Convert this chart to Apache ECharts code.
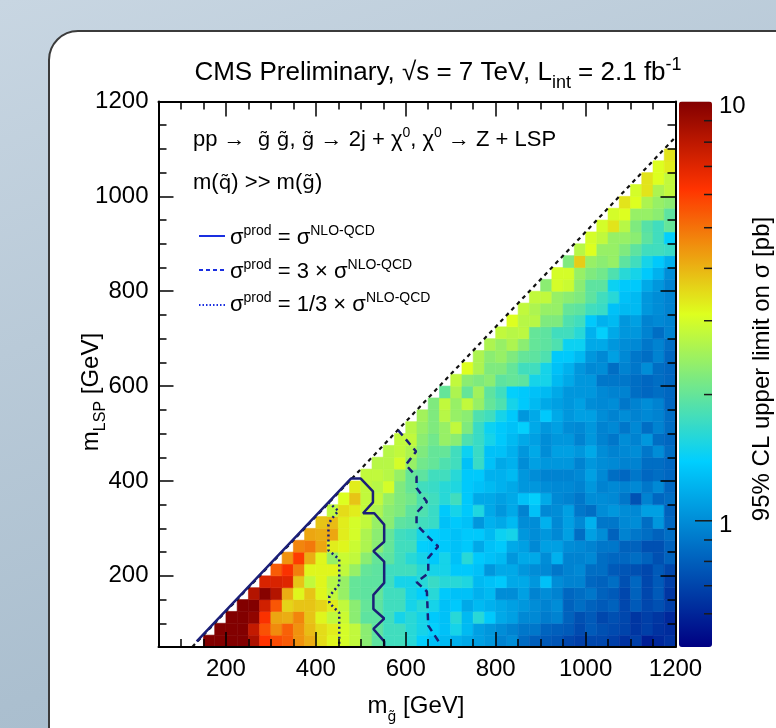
<!DOCTYPE html>
<html>
<head>
<meta charset="utf-8">
<script src="https://cdn.jsdelivr.net/npm/echarts@6/dist/echarts.min.js"></script>
<style>
html,body{margin:0;padding:0;width:776px;height:728px;overflow:hidden;}
body{background:linear-gradient(160deg,#c8d6e2 0%,#b9cad8 35%,#abbfcf 70%,#a3b8ca 100%);position:relative;}
#panel{position:absolute;left:48px;top:30px;width:820px;height:820px;background:#fff;border:2px solid #3b3b3b;border-radius:30px;box-sizing:border-box;}
#chart{position:absolute;left:0;top:0;width:776px;height:728px;}
</style>
</head>
<body>
<div id="panel"></div>
<div id="chart"></div>
<script>
// ---------------- data ----------------
const BIN = 25;              // GeV bin width (both axes)
const LSP_START = 50;        // first m_LSP bin (lower edge)
const GLUINO_OFFSET = 100;   // first m_gluino bin of each row = m_LSP + 100
// 95% CL upper limit on sigma [pb]; row k is m_LSP = 50 + 25k, values start at m_gluino = m_LSP + 100
const limitRows = [
 [10,10,10,10,8.5,6.2,5.7,5.4,4.5,4.1,3.5,3.2,3.0,2.8,2.3,1.95,1.75,1.75,1.6,1.4,1.3,1.25,1.2,1.15,1.1,1.05,0.95,1.0,0.85,0.8,0.78,0.76,0.71,0.68,0.71,0.71,0.68,0.64,0.68,0.58,0.61,0.64],
 [10,10,10,7.8,5.6,4.6,5.3,4.5,3.9,3.5,3.3,3.0,2.8,2.3,1.95,1.75,1.75,1.6,1.5,1.4,1.3,1.5,1.25,1.1,1.05,1.0,0.95,0.9,0.9,0.82,0.8,0.78,0.72,0.78,0.74,0.72,0.7,0.65,0.68,0.64,0.62],
 [10,10,9.5,6.3,4.2,4.1,4.7,3.8,3.2,2.8,2.9,2.3,1.95,1.95,1.75,1.5,1.6,1.5,1.35,1.3,1.6,1.25,1.6,1.35,1.15,1.1,0.98,0.98,0.92,0.95,0.81,0.74,0.78,0.71,0.74,0.71,0.65,0.68,0.65,0.61],
 [10,10,7.4,5.5,3.6,3.8,3.8,3.6,3.3,2.8,2.3,2.0,1.95,1.75,1.75,1.5,1.6,1.5,1.3,1.35,1.15,1.25,1.2,1.15,1.1,1.05,1.0,0.95,1.0,0.81,0.86,0.81,0.78,0.81,0.71,0.78,0.71,0.74,0.68],
 [8.3,9.8,8.3,4.1,3.2,3.8,3.2,2.8,2.4,2.0,1.95,2.0,1.75,1.75,1.5,1.4,1.6,1.35,1.3,1.3,1.2,1.25,1.0,1.0,1.1,0.95,1.0,0.95,0.83,0.86,0.9,0.81,0.78,0.71,0.81,0.71,0.78,0.65],
 [7.2,7.2,7.0,3.8,2.8,3.2,2.7,2.4,2.0,1.95,1.95,1.75,1.5,1.5,1.6,1.7,1.6,1.6,1.55,1.25,1.3,1.35,1.15,1.15,1.05,1.3,1.0,0.95,0.95,0.83,0.81,0.86,0.74,0.83,0.71,0.78,0.68],
 [5.4,6.3,4.8,3.2,3.2,3.2,2.8,2.4,2.0,1.95,1.75,1.75,1.75,1.6,1.5,1.5,1.35,1.35,1.3,1.05,1.15,1.15,1.05,1.0,0.98,0.9,0.95,0.98,0.86,0.86,0.78,0.76,0.74,0.71,0.78,0.71],
 [4.5,6.0,4.1,3.2,2.4,2.9,2.8,2.3,2.0,1.95,1.75,1.6,1.5,1.35,1.5,1.3,1.6,1.35,1.3,1.25,1.05,1.15,1.15,1.0,1.2,0.95,0.95,0.98,0.86,0.83,0.83,0.86,0.81,0.74,0.81],
 [4.7,4.9,4.2,3.3,3.2,2.9,2.6,2.3,2.0,1.75,1.75,1.4,1.35,1.35,1.3,1.35,1.15,1.3,1.35,1.15,1.1,0.98,1.1,1.1,1.0,0.98,0.95,0.9,0.9,0.81,0.81,0.74,0.74,0.81],
 [4.2,4.1,4.2,3.3,3.0,2.6,2.3,2.0,1.75,1.7,1.5,1.4,1.35,1.3,1.35,1.35,1.25,1.45,1.5,1.05,1.0,1.05,0.98,1.1,0.86,1.1,1.0,0.81,0.95,0.9,0.86,0.81,0.86],
 [3.8,3.9,3.3,3.0,2.8,2.4,2.3,1.95,1.9,1.75,1.7,1.3,1.35,1.3,1.05,1.2,1.15,1.25,1.0,1.0,1.2,0.98,1.1,0.98,1.2,0.9,0.9,0.98,1.0,0.86,1.05,0.83],
 [2.8,3.5,3.3,2.8,2.6,2.3,2.2,1.95,1.85,1.7,1.35,1.5,1.35,1.55,1.15,1.05,1.15,0.95,1.3,0.98,1.0,1.1,0.9,0.86,1.0,1.05,1.0,0.98,1.1,1.1,0.81],
 [3.1,3.8,2.8,2.8,2.4,2.2,2.1,1.85,1.75,1.6,1.75,1.35,1.15,1.15,1.1,1.15,1.3,1.4,1.15,0.98,0.95,0.9,1.0,1.0,0.98,0.9,0.75,0.95,0.83,0.86],
 [3.3,2.8,2.7,3.0,2.2,2.0,1.75,1.7,1.6,1.55,1.35,1.3,1.25,1.2,1.15,1.05,1.05,1.0,0.98,0.98,0.95,1.05,0.95,0.98,0.95,0.98,0.9,0.98,0.83],
 [2.8,2.8,2.7,2.4,2.0,1.95,1.75,1.75,1.6,1.35,1.35,1.2,1.2,1.25,1.05,1.0,0.95,0.95,0.95,0.98,1.1,0.98,0.86,0.83,0.9,0.83,0.86,0.83],
 [2.7,2.7,3.0,2.4,2.1,2.0,1.85,1.75,1.3,1.7,1.3,1.15,1.2,1.0,1.1,1.05,1.05,1.05,0.95,1.05,1.0,0.98,0.95,0.95,0.86,0.86,0.83],
 [2.7,2.8,2.6,2.2,2.0,2.0,1.75,1.45,1.7,1.3,1.3,1.2,1.05,1.15,1.0,1.1,1.1,1.05,1.15,1.0,0.95,0.98,1.0,0.9,1.0,0.86],
 [2.8,2.8,2.3,2.1,2.4,2.3,1.85,1.7,1.5,1.35,1.25,1.15,1.1,1.0,1.05,1.05,0.95,1.05,0.95,0.9,1.0,0.95,1.05,0.86,0.83],
 [2.7,2.4,2.2,2.4,2.8,2.2,1.7,1.45,1.35,1.3,1.4,1.15,1.05,1.1,1.0,0.98,1.05,0.95,0.98,0.9,0.98,0.86,0.95,0.86],
 [2.5,2.2,2.7,2.4,2.3,1.85,1.75,1.5,1.35,1.05,1.15,1.35,1.15,1.05,1.1,1.1,1.0,0.95,1.0,0.95,0.98,0.95,0.86],
 [2.2,2.8,2.4,2.8,2.4,2.0,1.85,1.5,1.35,1.25,1.15,1.1,1.05,1.1,1.0,0.98,1.0,0.9,0.95,1.0,0.95,0.83],
 [2.0,2.6,2.0,2.5,1.95,1.75,1.4,1.35,1.3,1.25,1.15,1.05,1.05,1.05,0.98,0.95,0.95,0.86,0.83,0.86,0.83],
 [2.8,2.3,2.2,2.3,1.95,2.0,1.95,1.5,1.5,1.25,1.15,1.05,1.05,0.9,0.9,0.9,0.86,0.83,0.86,0.83],
 [3.1,2.6,2.2,2.2,2.0,1.75,1.75,1.5,1.3,1.2,1.05,0.98,1.0,0.86,0.95,0.9,1.0,0.86,0.83],
 [2.6,2.3,2.4,2.2,2.0,1.95,1.85,1.35,1.35,1.25,1.05,0.98,1.1,0.98,0.9,0.86,0.95,0.83],
 [2.6,2.4,2.6,2.3,2.0,1.95,1.85,1.45,1.45,1.15,1.15,1.05,1.0,0.98,0.9,0.95,0.86],
 [2.8,2.7,2.75,2.0,1.95,1.75,1.75,1.6,1.2,1.4,1.15,1.05,1.05,0.95,0.86,0.95],
 [3.1,2.7,2.7,2.2,2.2,1.85,1.75,1.35,1.2,1.25,1.05,1.1,0.95,0.98,0.95],
 [2.8,2.6,2.4,2.4,2.0,1.95,1.75,1.7,1.3,1.25,1.25,1.05,1.0,0.95],
 [2.8,2.8,2.4,2.3,2.2,1.95,1.75,1.6,1.3,1.25,1.05,1.0,0.95],
 [2.3,3.0,2.9,2.3,1.95,1.95,1.45,1.35,1.35,1.15,1.05,0.95],
 [3.0,3.0,2.4,2.2,2.1,1.85,1.6,1.5,1.35,1.2,1.0],
 [2.2,3.7,2.4,2.3,2.4,1.95,1.75,1.5,1.35,1.2],
 [2.7,3.1,2.4,2.4,2.2,1.95,1.75,1.75,1.7],
 [3.0,2.8,2.4,2.4,2.3,1.95,1.75,1.4],
 [3.0,3.4,2.7,2.2,1.9,1.75,2.0],
 [3.0,3.1,2.4,2.4,2.3,1.95],
 [3.4,3.1,2.6,2.4,2.3],
 [3.0,3.4,2.6,2.8],
 [3.4,3.1,2.8],
 [3.1,3.3],
 [3.4]
];
// exclusion contours [m_gluino, m_LSP] in GeV
const contourNominal = [[135,62],[478,405],[500,405],[527,378],[527,355],[505,332],[530,332],[552,308],[552,272],[528,252],[552,230],[552,185],[528,160],[528,130],[552,110],[528,88],[552,62],[552,50]];
const contourTimes3 = [[583,507],[600,488],[623,462],[600,434],[624,409],[624,385],[647,356],[624,333],[624,308],[647,285],[672,262],[650,238],[650,205],[624,187],[647,167],[650,95],[673,62]];
const contourThird = [[428,355],[450,337],[435,320],[428,308],[428,254],[452,235],[452,182],[430,157],[430,143],[452,122],[452,50]];
const kinematicLimit = [[125,50],[1200,1125]];
// axes
const AXIS_MIN = 50, AXIS_MAX = 1200;
const xMajorTicks = [200,400,600,800,1000,1200];
const yMajorTicks = [200,400,600,800,1000,1200];
const Z_MIN = 0.5, Z_MAX = 10;
const zMinorTicks = [0.6,0.7,0.8,0.9,2,3,4,5,6,7,8,9];
const zMajorTicks = [1];

// ---------------- build ----------------
const cells = [];
limitRows.forEach((row, j) => {
  const y = LSP_START + j * BIN;
  row.forEach((v, k) => {
    const x = y + GLUINO_OFFSET + k * BIN;
    const c = Math.min(Math.max(v, Z_MIN), Z_MAX);
    cells.push([x, y, v, Math.log10(c)]);
  });
});

// ROOT rainbow palette
const pStops = [0, 0.34, 0.61, 0.84, 1];
const pR = [0, 0, 0.87, 1, 0.51], pG = [0, 0.81, 1, 0.2, 0], pB = [0.51, 1, 0.12, 0, 0];
function palColor(f) {
  let i = 0;
  while (i < pStops.length - 2 && f > pStops[i + 1]) i++;
  const t = (f - pStops[i]) / (pStops[i + 1] - pStops[i]);
  const ch = a => Math.round(255 * (a[i] + t * (a[i + 1] - a[i])));
  return 'rgb(' + ch(pR) + ',' + ch(pG) + ',' + ch(pB) + ')';
}
const palette = [];
for (let i = 0; i <= 100; i++) palette.push(palColor(i / 100));

const FONT = '"Liberation Sans", Arial, Helvetica, sans-serif';
const TFONT = '"DejaVu Sans", "Liberation Sans", sans-serif';
const LH = 40;
function rich(base, sub, pbBase, pbSub, pbSup) {
  const st = (fs, pb, fam) => ({fontSize: fs, fontFamily: fam || FONT, fill: '#000', lineHeight: LH, verticalAlign: 'bottom', padding: [0, 0, pb, 0]});
  return {
    b: st(base, pbBase),
    t: st(Math.round(base * 0.9), pbBase + 1, TFONT),
    sub: st(sub, pbSub),
    subt: st(Math.round(sub * 0.9), pbSub, TFONT),
    sup: st(sub, pbSup)
  };
}
const richTitle = rich(26, 18, 7, 1, 19);
const richAxis = rich(24, 16, 8, 2, 19);
const richLeg = rich(22, 14, 9, 9, 20);

function txt(x, y, text, r, opts) {
  return Object.assign({type: 'text', x: x, y: y, z: 100, silent: true,
    style: {text: text, rich: r, align: 'left', verticalAlign: 'middle', fill: '#000'}}, opts || {});
}
function withAlign(el, a) { el.style.align = a; return el; }

const LEG_BLUE = '#1a2fe0';
const CONTOUR = '#1b1f78';

const tickStyle = {color: '#000', width: 1.5};
function ax(extra) {
  return Object.assign({type: 'value', min: AXIS_MIN, max: AXIS_MAX, gridIndex: 0, z: 6,
    splitLine: {show: false}, axisLine: {show: false}, axisLabel: {show: false}, axisTick: {show: false}}, extra);
}
const lineAx = {show: true, onZero: false, lineStyle: {color: '#000', width: 2}};
const labelStyle = {show: true, fontSize: 24, color: '#000', fontFamily: FONT, formatter: v => String(v)};

const option = {
  animation: false,
  grid: [
    {left: 158.5, top: 101.5, width: 517, height: 545.5, show: false},
    {left: 679, top: 101.5, width: 33, height: 545.5, show: false}
  ],
  xAxis: [
    ax({position: 'bottom', axisLine: lineAx,
        axisTick: {show: true, inside: true, length: 15, customValues: xMajorTicks, lineStyle: tickStyle},
        axisLabel: Object.assign({customValues: xMajorTicks, margin: 10}, labelStyle)}),
    ax({position: 'bottom', interval: 50, axisTick: {show: true, inside: true, length: 8, lineStyle: tickStyle}}),
    ax({position: 'top', axisLine: lineAx,
        axisTick: {show: true, inside: true, length: 15, customValues: xMajorTicks, lineStyle: tickStyle}}),
    ax({position: 'top', interval: 50, axisTick: {show: true, inside: true, length: 8, lineStyle: tickStyle}}),
    {type: 'value', gridIndex: 1, min: 0, max: 1, show: false}
  ],
  yAxis: [
    ax({position: 'left', axisLine: lineAx,
        axisTick: {show: true, inside: true, length: 15, customValues: yMajorTicks, lineStyle: tickStyle},
        axisLabel: Object.assign({customValues: yMajorTicks, margin: 10}, labelStyle)}),
    ax({position: 'left', interval: 50, axisTick: {show: true, inside: true, length: 8, lineStyle: tickStyle}}),
    ax({position: 'right', axisLine: lineAx,
        axisTick: {show: true, inside: true, length: 15, customValues: yMajorTicks, lineStyle: tickStyle}}),
    ax({position: 'right', interval: 50, axisTick: {show: true, inside: true, length: 8, lineStyle: tickStyle}}),
    {type: 'log', logBase: 10, gridIndex: 1, min: Z_MIN, max: Z_MAX, position: 'right', z: 6,
     axisLine: {show: false}, axisTick: {show: false}, splitLine: {show: false},
     axisLabel: {show: true, color: '#000', margin: 7,
       rich: {d: {fontSize: 24, fontFamily: FONT, fill: '#000', color: '#000', padding: [10, 0, 0, 0]}},
       formatter: function (v) {
         const l = Math.log10(v);
         return (v >= 1 && Math.abs(l - Math.round(l)) < 1e-6) ? '{d|' + Math.round(v) + '}' : '';
       }}}
  ],
  visualMap: {
    type: 'continuous', seriesIndex: 0, dimension: 3,
    min: Math.log10(Z_MIN), max: Math.log10(Z_MAX),
    inRange: {color: palette},
    left: 679, top: 101.5, itemWidth: 33, itemHeight: 545.5, padding: 0,
    calculable: false, hoverLink: false, text: null, orient: 'vertical',
    textStyle: {fontSize: 0, color: 'rgba(0,0,0,0)'}
  },
  series: [
    {
      type: 'custom', name: 'limit', xAxisIndex: 0, yAxisIndex: 0, z: 2, silent: true, progressive: 0,
      dimensions: ['mGluino', 'mLSP', 'limit', 'logLimit'],
      encode: {x: 0, y: 1},
      data: cells,
      renderItem: function (params, api) {
        const x0 = api.value(0), y0 = api.value(1);
        const a = api.coord([x0, y0 + BIN]);
        const b = api.coord([x0 + BIN, y0]);
        const c = api.visual('color');
        return {type: 'rect', shape: {x: a[0], y: a[1], width: b[0] - a[0], height: b[1] - a[1]},
          style: {fill: c, stroke: c, lineWidth: 0.6}};
      }
    },
    {type: 'line', xAxisIndex: 0, yAxisIndex: 0, z: 4, data: kinematicLimit, showSymbol: false, symbol: 'none', silent: true,
     lineStyle: {color: '#111', width: 2.2, type: [4, 4]}},
    {type: 'line', xAxisIndex: 0, yAxisIndex: 0, z: 5, data: contourNominal, showSymbol: false, symbol: 'none', silent: true,
     lineStyle: {color: CONTOUR, width: 2.5, type: 'solid'}},
    {type: 'line', xAxisIndex: 0, yAxisIndex: 0, z: 5, data: contourTimes3, showSymbol: false, symbol: 'none', silent: true,
     lineStyle: {color: CONTOUR, width: 2.5, type: [7, 5]}},
    {type: 'line', xAxisIndex: 0, yAxisIndex: 0, z: 5, data: contourThird, showSymbol: false, symbol: 'none', silent: true,
     lineStyle: {color: CONTOUR, width: 2.5, type: [2, 3]}},
    {
      type: 'custom', xAxisIndex: 4, yAxisIndex: 4, z: 6, silent: true,
      data: zMinorTicks.map(v => [1, v, 8]).concat(zMajorTicks.map(v => [1, v, 17])),
      encode: {x: 0, y: 1},
      renderItem: function (params, api) {
        const p = api.coord([api.value(0), api.value(1)]);
        const len = api.value(2);
        return {type: 'line', shape: {x1: p[0], y1: p[1], x2: p[0] - len, y2: p[1]},
          style: {stroke: '#1a1a1a', lineWidth: 1.5}};
      }
    }
  ],
  graphic: {elements: [
    withAlign(txt(438, 73, '{b|CMS Preliminary, √s = 7 TeV, L}{sub|int}{b| = 2.1 fb}{sup|-1}', richTitle), 'center'),
    txt(193, 140.4, '{b|pp →  }{t|g̃ g̃}{b|, }{t|g̃}{b| → 2j + χ}{sup|0}{b|, χ}{sup|0}{b| → Z + LSP}', richLeg),
    txt(193, 183.4, '{b|m(}{t|q̃}{b|) >> m(}{t|g̃}{b|)}', richLeg),
    txt(230, 238, '{b|σ}{sup|prod}{b| = σ}{sup|NLO-QCD}', richLeg),
    txt(230, 272, '{b|σ}{sup|prod}{b| = 3 × σ}{sup|NLO-QCD}', richLeg),
    txt(230, 305.4, '{b|σ}{sup|prod}{b| = 1/3 × σ}{sup|NLO-QCD}', richLeg),
    {type: 'line', z: 100, silent: true, shape: {x1: 199, y1: 236, x2: 225, y2: 236}, style: {stroke: LEG_BLUE, lineWidth: 2}},
    {type: 'line', z: 100, silent: true, shape: {x1: 199, y1: 270, x2: 225, y2: 270}, style: {stroke: LEG_BLUE, lineWidth: 2, lineDash: [4, 3]}},
    {type: 'line', z: 100, silent: true, shape: {x1: 199, y1: 305, x2: 225, y2: 305}, style: {stroke: LEG_BLUE, lineWidth: 2, lineDash: [1.5, 2]}},
    withAlign(txt(416, 706.7, '{b|m}{subt|g̃}{b| [GeV]}', richAxis), 'center'),
    withAlign(txt(91, 392, '{b|m}{sub|LSP}{b| [GeV]}', richAxis, {rotation: Math.PI / 2}), 'center'),
    withAlign(txt(762, 369, '{b|95% CL upper limit on σ [pb]}', richAxis, {rotation: Math.PI / 2}), 'center')
  ]}
};

const chart = echarts.init(document.getElementById('chart'), null, {renderer: 'canvas'});
chart.setOption(option);
</script>
</body>
</html>
